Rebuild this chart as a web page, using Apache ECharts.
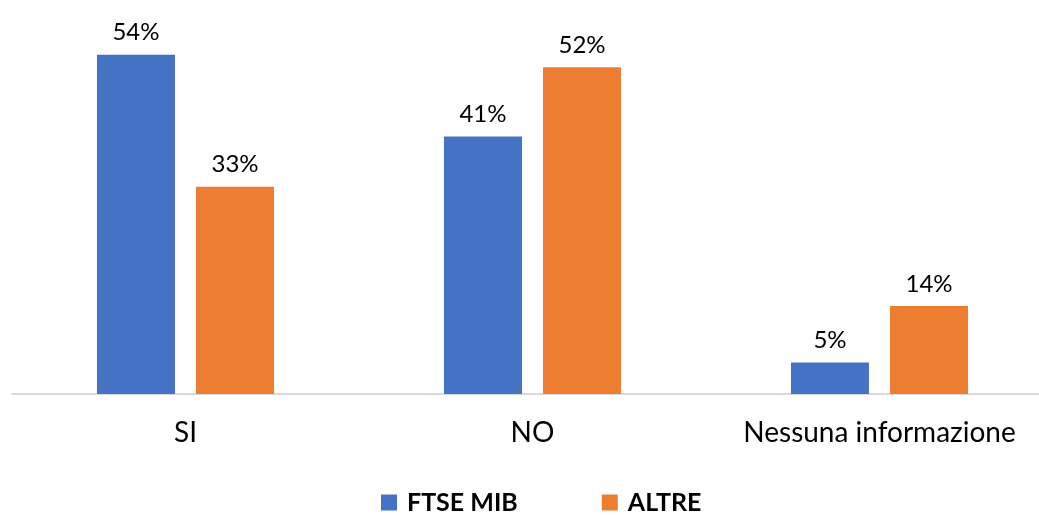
<!DOCTYPE html>
<html>
<head>
<meta charset="utf-8">
<script src="https://cdn.jsdelivr.net/npm/echarts@6/dist/echarts.min.js"></script>
<style>
  html, body { margin: 0; padding: 0; background: #fff; }
  #main { width: 1039px; height: 515px; }
</style>
</head>
<body>
<div id="main"></div>
<script>
var categories = ['SI', 'NO', 'Nessuna informazione'];
var ftseMib = [54, 41, 5];
var altre = [33, 52, 14];

var myChart = echarts.init(document.getElementById('main'));
var font = 'Lato, "Open Sans", sans-serif';

var labelStyle = {
  show: true,
  position: 'top',
  distance: 10,
  formatter: '{c}%',
  fontFamily: font,
  fontSize: 24,
  color: '#000'
};

var option = {
  animation: false,
  color: ['#4472C4', '#ED7D31'],
  legend: {
    left: 381,
    top: 490,
    padding: 0,
    itemWidth: 16,
    itemHeight: 16,
    itemGap: 84,
    icon: 'rect',
    textStyle: { fontFamily: font, fontSize: 25, fontWeight: 'bold', color: '#000', padding: [0, 0, 0, 5] },
    data: ['FTSE MIB', 'ALTRE']
  },
  grid: { left: 12, top: 17, width: 1041, height: 377, outerBoundsMode: 'none', containLabel: false },
  xAxis: {
    type: 'category',
    data: categories,
    axisLine: { lineStyle: { color: '#D9D9D9', width: 2 } },
    axisTick: { show: false },
    axisLabel: { interval: 0, hideOverlap: false, fontFamily: font, fontSize: 28, color: '#000', margin: 25 }
  },
  yAxis: {
    type: 'value',
    min: 0,
    max: 60,
    show: false,
    splitLine: { show: false }
  },
  series: [
    { name: 'FTSE MIB', type: 'bar', data: ftseMib, barWidth: 78, barGap: '27%', label: labelStyle },
    { name: 'ALTRE', type: 'bar', data: altre, barWidth: 78, barGap: '27%', label: labelStyle }
  ]
};
myChart.setOption(option);
</script>
</body>
</html>
